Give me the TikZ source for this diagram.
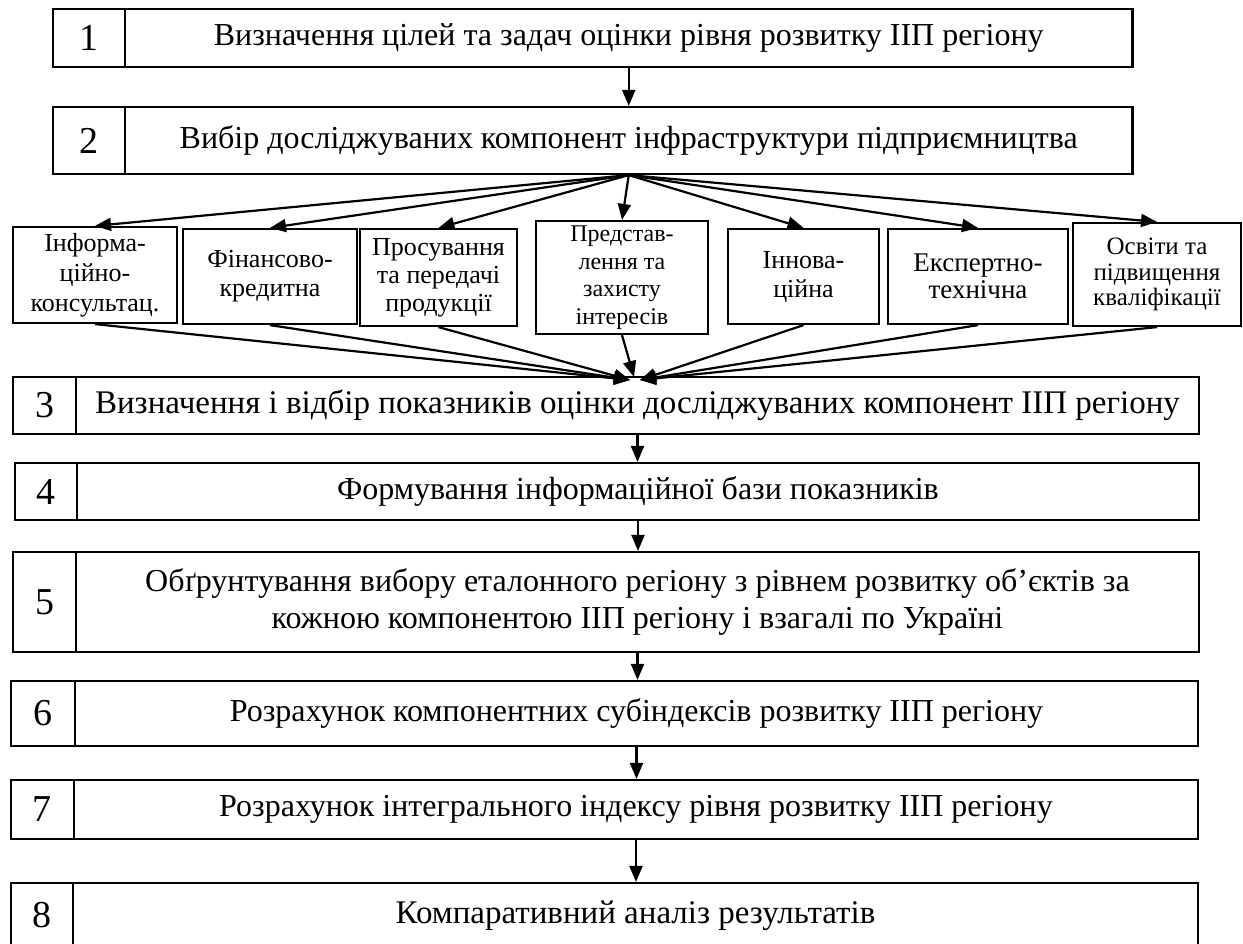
\documentclass[tikz,border=0pt]{standalone}
\usepackage{fontspec}
\setmainfont{Liberation Serif}
\usetikzlibrary{arrows.meta}
\begin{document}
\begin{tikzpicture}[x=1pt,y=-1pt,
  frame/.style={draw, line width=2.2pt, inner sep=0pt, align=center},
  numcell/.style={frame, font=\fontsize{38}{40}\selectfont},
  textcell/.style={frame, font=\fontsize{32}{37}\selectfont},
  widecell/.style={frame, font=\fontsize{33}{38}\selectfont},
  link/.style={line width=2.2pt},
  arr/.style={link, -{Triangle[length=16pt,width=13pt]}},
]
\useasboundingbox (0,0) rectangle (1243,943);

% upper two steps
\node[numcell, minimum width=72.4pt, minimum height=57.4pt] (n1) at (88.8,38) {1};
\node[textcell, minimum width=1007.5pt, minimum height=57.4pt] (t1) at (628.75,38)
  {Визначення цілей та задач оцінки рівня розвитку ІІП регіону};
\node[numcell, minimum width=72.4pt, minimum height=67pt] (n2) at (88.8,140.5) {2};
\node[textcell, minimum width=1007.5pt, minimum height=67pt] (t2) at (628.75,140.5)
  {Вибір досліджуваних компонент інфраструктури підприємництва};

% components of the infrastructure
\node[frame, minimum width=164pt, minimum height=96pt, font=\fontsize{26}{30}\selectfont] (ca) at (95,275)
  {Інформа-\\ційно-\\консультац.};
\node[frame, minimum width=174pt, minimum height=95pt, font=\fontsize{26}{29}\selectfont] (cb) at (270,276.5)
  {Фінансово-\\кредитна};
\node[frame, minimum width=157pt, minimum height=97pt, font=\fontsize{26}{28}\selectfont] (cc) at (438.5,277.5)
  {Просування\\та передачі\\продукції};
\node[frame, minimum width=172pt, minimum height=113pt, font=\fontsize{24}{27.5}\selectfont] (cd) at (622,277.5)
  {Представ-\\лення та\\захисту\\інтересів};
\node[frame, minimum width=151pt, minimum height=95pt, font=\fontsize{26}{29}\selectfont] (ce) at (803.5,276.5)
  {Іннова-\\ційна};
\node[frame, minimum width=180pt, minimum height=95pt, font=\fontsize{27}{27}\selectfont] (cf) at (978,276.5)
  {Експертно-\\технічна};
\node[frame, minimum width=168pt, minimum height=103pt, font=\fontsize{25}{25.5}\selectfont] (cg) at (1157,274.5)
  {Освіти та\\підвищення\\кваліфікації};

% lower steps
\node[numcell, minimum width=63pt, minimum height=57pt] (n3) at (44.5,405.5) {3};
\node[widecell, minimum width=1123pt, minimum height=57pt] (t3) at (637.5,405.5)
  {Визначення і відбір показників оцінки досліджуваних компонент ІІП регіону};
\node[numcell, minimum width=62.4pt, minimum height=57pt] (n4) at (45.8,491.5) {4};
\node[textcell, minimum width=1122pt, minimum height=57pt] (t4) at (638,491.5)
  {Формування інформаційної бази показників};
\node[numcell, minimum width=63pt, minimum height=100pt] (n5) at (44.5,602) {5};
\node[textcell, minimum width=1123pt, minimum height=100pt] (t5) at (637.5,602)
  {Обґрунтування вибору еталонного регіону з рівнем розвитку об’єктів за\\кожною компонентою ІІП регіону і взагалі по Україні};
\node[numcell, minimum width=64.3pt, minimum height=65pt] (n6) at (42.85,713.5) {6};
\node[textcell, minimum width=1123pt, minimum height=65pt] (t6) at (636.5,713.5)
  {Розрахунок компонентних субіндексів розвитку ІІП регіону};
\node[numcell, minimum width=63.3pt, minimum height=59pt] (n7) at (42.35,809.5) {7};
\node[textcell, minimum width=1124pt, minimum height=59pt] (t7) at (636,809.5)
  {Розрахунок інтегрального індексу рівня розвитку ІІП регіону};
\node[numcell, minimum width=62.3pt, minimum height=65pt] (n8) at (41.85,915.5) {8};
\node[widecell, minimum width=1125pt, minimum height=65pt] (t8) at (635.5,915.5)
  {Компаративний аналіз результатів};

% flow between steps
\draw[arr] (t1.south) -- (t2.north);
\foreach \c in {ca,cb,cc,cd,ce,cf,cg}
  \draw[arr] (t2.south) -- (\c.north);

\coordinate (jl) at (630,380);
\coordinate (jr) at (640,380);
\coordinate (jm) at (634,377);
\foreach \c in {ca,cb,cc}
  \draw[arr] (\c.south) -- (jl);
\draw[arr] (cd.south) -- (jm);
\foreach \c in {ce,cf,cg}
  \draw[arr] (\c.south) -- (jr);

\draw[arr] (t3.south) -- (t3.south |- t4.north);
\draw[arr] (t4.south) -- (t4.south |- t5.north);
\draw[arr] (t5.south) -- (t5.south |- t6.north);
\draw[arr] (t6.south) -- (t6.south |- t7.north);
\draw[arr] (t7.south) -- (t7.south |- t8.north);
\end{tikzpicture}
\end{document}
